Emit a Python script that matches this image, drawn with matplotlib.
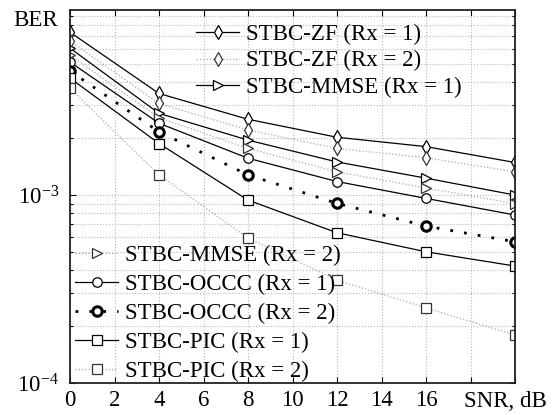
import matplotlib
matplotlib.use("Agg")
import matplotlib.pyplot as plt
import numpy as np

plt.rcParams['font.family'] = ['Liberation Serif', 'DejaVu Serif']
plt.rcParams['mathtext.fontset'] = 'custom'
plt.rcParams['mathtext.rm'] = 'Liberation Serif'
plt.rcParams['mathtext.it'] = 'Liberation Serif:italic'

snr = [0, 4, 8, 12, 16, 20]
zf_rx1 = [7.35e-3, 3.47e-3, 2.53e-3, 2.03e-3, 1.81e-3, 1.49e-3]
zf_rx2 = [6.6e-3, 3.07e-3, 2.22e-3, 1.77e-3, 1.58e-3, 1.33e-3]
mmse_rx1 = [6.05e-3, 2.72e-3, 1.96e-3, 1.50e-3, 1.23e-3, 1.0e-3]
mmse_rx2 = [5.55e-3, 2.58e-3, 1.77e-3, 1.33e-3, 1.09e-3, 9.0e-4]
occc_rx1 = [5.1e-3, 2.41e-3, 1.57e-3, 1.18e-3, 9.6e-4, 7.83e-4]
occc_rx2 = [4.57e-3, 2.17e-3, 1.28e-3, 9.03e-4, 6.84e-4, 5.64e-4]
pic_rx1 = [4.19e-3, 1.88e-3, 9.4e-4, 6.3e-4, 4.99e-4, 4.19e-4]
pic_rx2 = [3.7e-3, 1.28e-3, 5.9e-4, 3.53e-4, 2.51e-4, 1.8e-4]

labels = ['STBC-ZF (Rx = 1)', 'STBC-ZF (Rx = 2)', 'STBC-MMSE (Rx = 1)',
          'STBC-MMSE (Rx = 2)', 'STBC-OCCC (Rx = 1)', 'STBC-OCCC (Rx = 2)',
          'STBC-PIC (Rx = 1)', 'STBC-PIC (Rx = 2)']
xticks = [0, 2, 4, 6, 8, 10, 12, 14, 16, 18, 20]
xticklabels = ['0', '2', '4', '6', '8', '10', '12', '14', '16', '', '']

fig = plt.figure(figsize=(5.52, 4.15), dpi=100)
ax = fig.add_axes([70/552, 32/415, 445/552, 373/415])

ms = 6.8
solid = dict(color='black', lw=0.9, mfc='white', mec='black', mew=0.9, ms=ms)
gray = dict(color='#a8a8a8', lw=0.9, ls=':', mfc='white', mec='#333333', mew=0.9, ms=ms)

h = []
h += ax.plot(snr, zf_rx1, marker='d', **solid)
h += ax.plot(snr, zf_rx2, marker='d', **gray)
h += ax.plot(snr, mmse_rx1, marker='>', **solid)
h += ax.plot(snr, mmse_rx2, marker='>', **gray)
h += ax.plot(snr, occc_rx1, marker='o', **solid)
h += ax.plot(snr, occc_rx2, marker='o', color='black', lw=2.0, ls=(0, (1, 4)),
             mfc='white', mec='black', mew=2.2, ms=ms)
h += ax.plot(snr, pic_rx1, marker='s', **solid)
h += ax.plot(snr, pic_rx2, marker='s', **gray)

ax.set_yscale('log')
ax.set_xlim(0, 20)
ax.set_ylim(1e-4, 9.65e-3)
ax.set_xticks(xticks)
ax.set_xticklabels(xticklabels)
ax.set_yticks([1e-4, 1e-3])
ax.set_yticklabels([r'$10^{-4}$', r'$10^{-3}$'])
ax.tick_params(axis='both', which='both', direction='in', top=True, right=True,
               labelsize=16.5, length=4, width=0.8)
ax.tick_params(axis='y', which='minor', length=2.5, labelleft=False)
ax.tick_params(axis='x', pad=5)
ax.tick_params(axis='y', pad=8)
ax.grid(True, which='major', ls=':', color='#b8b8b8', lw=0.8)
ax.grid(True, which='minor', axis='y', ls=':', color='#b8b8b8', lw=0.8)
for s in ax.spines.values():
    s.set_linewidth(1.3)
    s.set_color('#222222')

leg1 = ax.legend(h[:3], labels[:3], loc='upper left', bbox_to_anchor=(0.247, 1.005),
                 frameon=False, fontsize=16.5, handlelength=1.9, handletextpad=0.3,
                 labelspacing=0.22, borderpad=0.2)
ax.add_artist(leg1)
ax.legend(h[3:], labels[3:], loc='lower left', bbox_to_anchor=(-0.025, -0.04),
          frameon=False, fontsize=16.5, handlelength=1.9, handletextpad=0.3,
          labelspacing=0.34, borderpad=0.2)

fig.text(13/552, 1 - 20/415, 'BER', fontsize=16.5, va='center', ha='left')
fig.text(547/552, 1 - 401/415, 'SNR, dB', fontsize=16.5, va='center', ha='right')

fig.savefig('out.png', dpi=100)
